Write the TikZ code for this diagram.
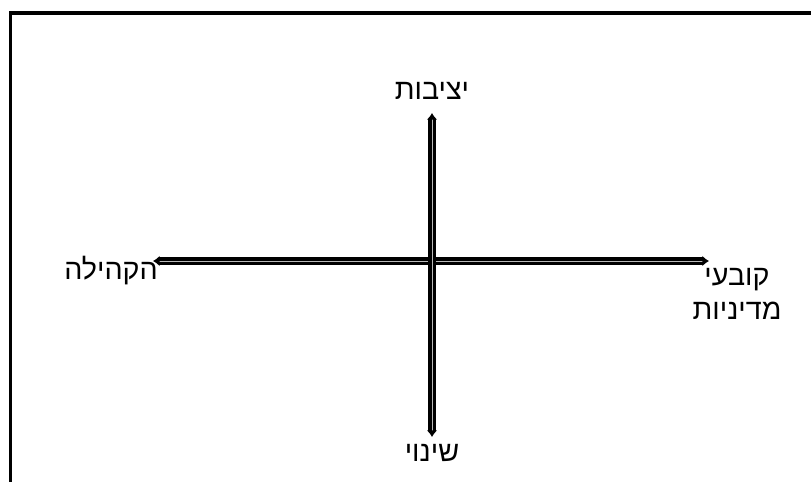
\documentclass[tikz,border=0pt]{standalone}
\usepackage{fontspec}
\setmainfont{Liberation Sans}
\newfontfamily\hebfont[Script=Hebrew]{Liberation Sans}
\TeXXeTstate=1
\usetikzlibrary{arrows.meta,positioning}

\tikzset{
  axisline/.style={draw=black, double=gray!55, double distance=0.6pt, line width=2.6pt,
                   {Latex[length=5pt,width=8pt]}-{Latex[length=5pt,width=8pt]}},
  lbl/.style={font=\hebfont\fontsize{21.5}{26}\selectfont, inner sep=0pt, align=center}
}

\begin{document}
\begin{tikzpicture}[x=0.75pt,y=-0.75pt]
  \useasboundingbox (0,0) rectangle (811,482);
  % frame (only top and left edge visible)
  \draw[line width=2.8pt] (811,13) -- (10.5,13) -- (10.5,482);
  % axis end points
  \coordinate (top) at (432,113);
  \coordinate (bot) at (432,437);
  \coordinate (lft) at (153,261);
  \coordinate (rgt) at (709,261);
  \draw[axisline] (lft) -- (rgt);
  \draw[axisline] (bot) -- (top);
  % labels
  \node[lbl] (stab) at (432,91) {\beginR יציבות\endR};
  \node[lbl] (chg) at (432,453) {\beginR שינוי\endR};
  \node[lbl] (comm) at (111,271) {\beginR הקהילה\endR};
  \node[lbl] (pol) at (737,294) {\beginR קובעי\endR\\\beginR מדיניות\endR};
\end{tikzpicture}
\end{document}
